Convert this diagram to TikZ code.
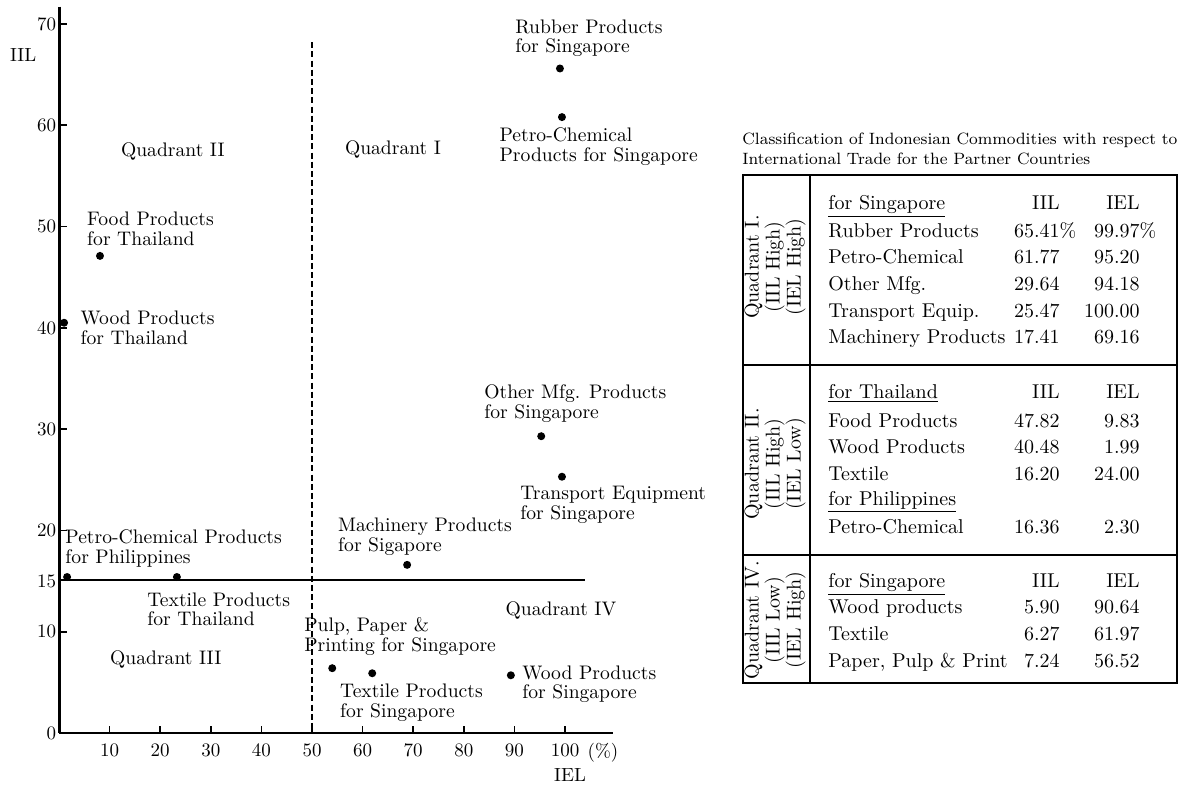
\documentclass[tikz,border=0pt]{standalone}
\usepackage{tikz}
\usetikzlibrary{positioning}

\newcommand{\lbsize}{\fontsize{9.8}{9.8}\selectfont}
\newcommand{\tbsize}{\fontsize{10}{10.5}\selectfont}

\begin{document}
\begin{tikzpicture}[x=0.5pt,y=-0.5pt,
  dot/.style={circle,fill,inner sep=0pt,minimum size=4pt},
  lbl/.style={font=\lbsize,align=left,anchor=west,inner sep=0pt},
  quad/.style={font=\lbsize,inner sep=0pt},
  ticklbl/.style={font=\fontsize{9.5}{9.5}\selectfont,inner sep=0pt},
  cell/.style={font=\tbsize,inner sep=0pt,anchor=base west},
  val/.style={font=\tbsize,inner sep=0pt,anchor=base east},
  side/.style={font=\tbsize,inner sep=0pt,rotate=90,align=center}]
\useasboundingbox (0,0) rectangle (1182,784);

% the plot, in data units (IEL,IIL)
\begin{scope}[shift={(59,733)},x=2.53pt,y=5.065pt]
\draw[line width=1.5pt] (0,71.7) -- (0,0);
\draw[line width=1.2pt] (0,0) -- (109.5,0);
\draw[line width=0.9pt] (0,15.1) -- (104,15.1);
\draw[line width=1pt,dash pattern=on 3pt off 1.6pt] (50,68.2) -- (50,0);
\foreach \y in {10,20,...,70} { \draw[line width=0.8pt] (0,\y) -- (1.6,\y); }
\foreach \y in {0,10,15,20,30,40,50,60,70} { \node[ticklbl,anchor=east] (y\y) at (-0.5,\y) {\y}; }
\foreach \x in {10,20,...,100} {
  \draw[line width=0.8pt] (\x,0) -- (\x,0.7);
  \node[ticklbl,anchor=north] (x\x) at (\x,-1) {\x};
}
\node[ticklbl,anchor=north] (pct) at (107.5,-1) {(\%)};
\node[ticklbl] (iil) at (-7.1,66.9) {IIL};
\node[ticklbl] (iel) at (101,-4.1) {IEL};

\node[quad] (qI) at (66,57.6) {Quadrant I};
\node[quad] (qII) at (22.5,57.4) {Quadrant II};
\node[quad] (qIII) at (21.1,7.3) {Quadrant III};
\node[quad] (qIV) at (99.2,12.1) {Quadrant IV};

\node[dot] (rubber) at (99.0,65.6) {};
\node[lbl] (rubbertxt) at (90.1,68.6) {Rubber Products\\for Singapore};
\node[dot] (petrosg) at (99.4,60.8) {};
\node[lbl] (petrosgtxt) at (87.0,57.9) {Petro-Chemical\\Products for Singapore};
\node[dot] (foodth) at (8.1,47.1) {};
\node[lbl] (foodthtxt) at (5.5,49.8) {Food Products\\for Thailand};
\node[dot] (woodth) at (1.0,40.5) {};
\node[lbl] (woodthtxt) at (4.2,40.0) {Wood Products\\for Thailand};
\node[dot] (othersg) at (95.3,29.3) {};
\node[lbl] (othersgtxt) at (84.0,32.5) {Other Mfg. Products\\for Singapore};
\node[dot] (transsg) at (99.4,25.3) {};
\node[lbl] (transsgtxt) at (91.1,22.5) {Transport Equipment\\for Singapore};
\node[dot] (machsg) at (68.8,16.6) {};
\node[lbl] (machsgtxt) at (55.1,19.4) {Machinery Products\\for Sigapore};
\node[dot] (petroph) at (1.6,15.4) {};
\node[lbl] (petrophtxt) at (1.2,18.2) {Petro-Chemical Products\\for Philippines};
\node[dot] (textth) at (23.3,15.4) {};
\node[lbl] (textthtxt) at (17.4,12.2) {Textile Products\\for Thailand};
\node[dot] (pulpsg) at (54.0,6.4) {};
\node[lbl] (pulpsgtxt) at (48.4,9.5) {Pulp, Paper \&\\Printing for Singapore};
\node[dot] (textsg) at (61.9,5.9) {};
\node[lbl] (textsgtxt) at (55.5,3.0) {Textile Products\\for Singapore};
\node[dot] (woodsg) at (89.3,5.7) {};
\node[lbl] (woodsgtxt) at (91.5,4.8) {Wood Products\\for Singapore};
\end{scope}

% the table
\node[font=\fontsize{8.2}{10}\selectfont,align=left,anchor=west,inner sep=0pt] (title) at (742,149)
  {Classification of Indonesian Commodities with respect to\\International Trade for the Partner Countries};
\draw[line width=0.9pt] (743,175) rectangle (1177,683);
\draw[line width=0.9pt] (810,175) -- (810,683);
\draw[line width=0.9pt] (743,365) -- (1177,365);
\draw[line width=0.9pt] (743,555) -- (1177,555);
\node[side] (sideI) at (775,267) {Quadrant I.\\(IIL High)\\(IEL High)};
\node[side] (sideII) at (775,464) {Quadrant II.\\(IIL High)\\(IEL Low)};
\node[side] (sideIV) at (775,620) {Quadrant IV.\\(IIL Low)\\(IEL High)};
\foreach \n/\a/\b/\y [count=\i] in {
  {\underline{for Singapore}}/IIL/IEL/209,
  Rubber Products/65.41\rlap{\%}/99.97\rlap{\%}/237,
  Petro-Chemical/61.77/95.20/263,
  Other Mfg./29.64/94.18/290,
  Transport Equip./25.47/100.00/317,
  Machinery Products/17.41/69.16/343,
  {\underline{for Thailand}}/IIL/IEL/398,
  Food Products/47.82/9.83/427,
  Wood Products/40.48/1.99/453,
  Textile/16.20/24.00/480,
  {\underline{for Philippines}}/{}/{}/505,
  Petro-Chemical/16.36/2.30/533,
  {\underline{for Singapore}}/IIL/IEL/587,
  Wood products/5.90/90.64/613,
  Textile/6.27/61.97/640,
  {Paper, Pulp \& Print}/7.24/56.52/667} {
  \node[cell] (name\i) at (828,\y) {\n};
  \node[val] (iil\i) at (1060,\y) {\a};
  \node[val] (iel\i) at (1140,\y) {\b};
}
\end{tikzpicture}
\end{document}
